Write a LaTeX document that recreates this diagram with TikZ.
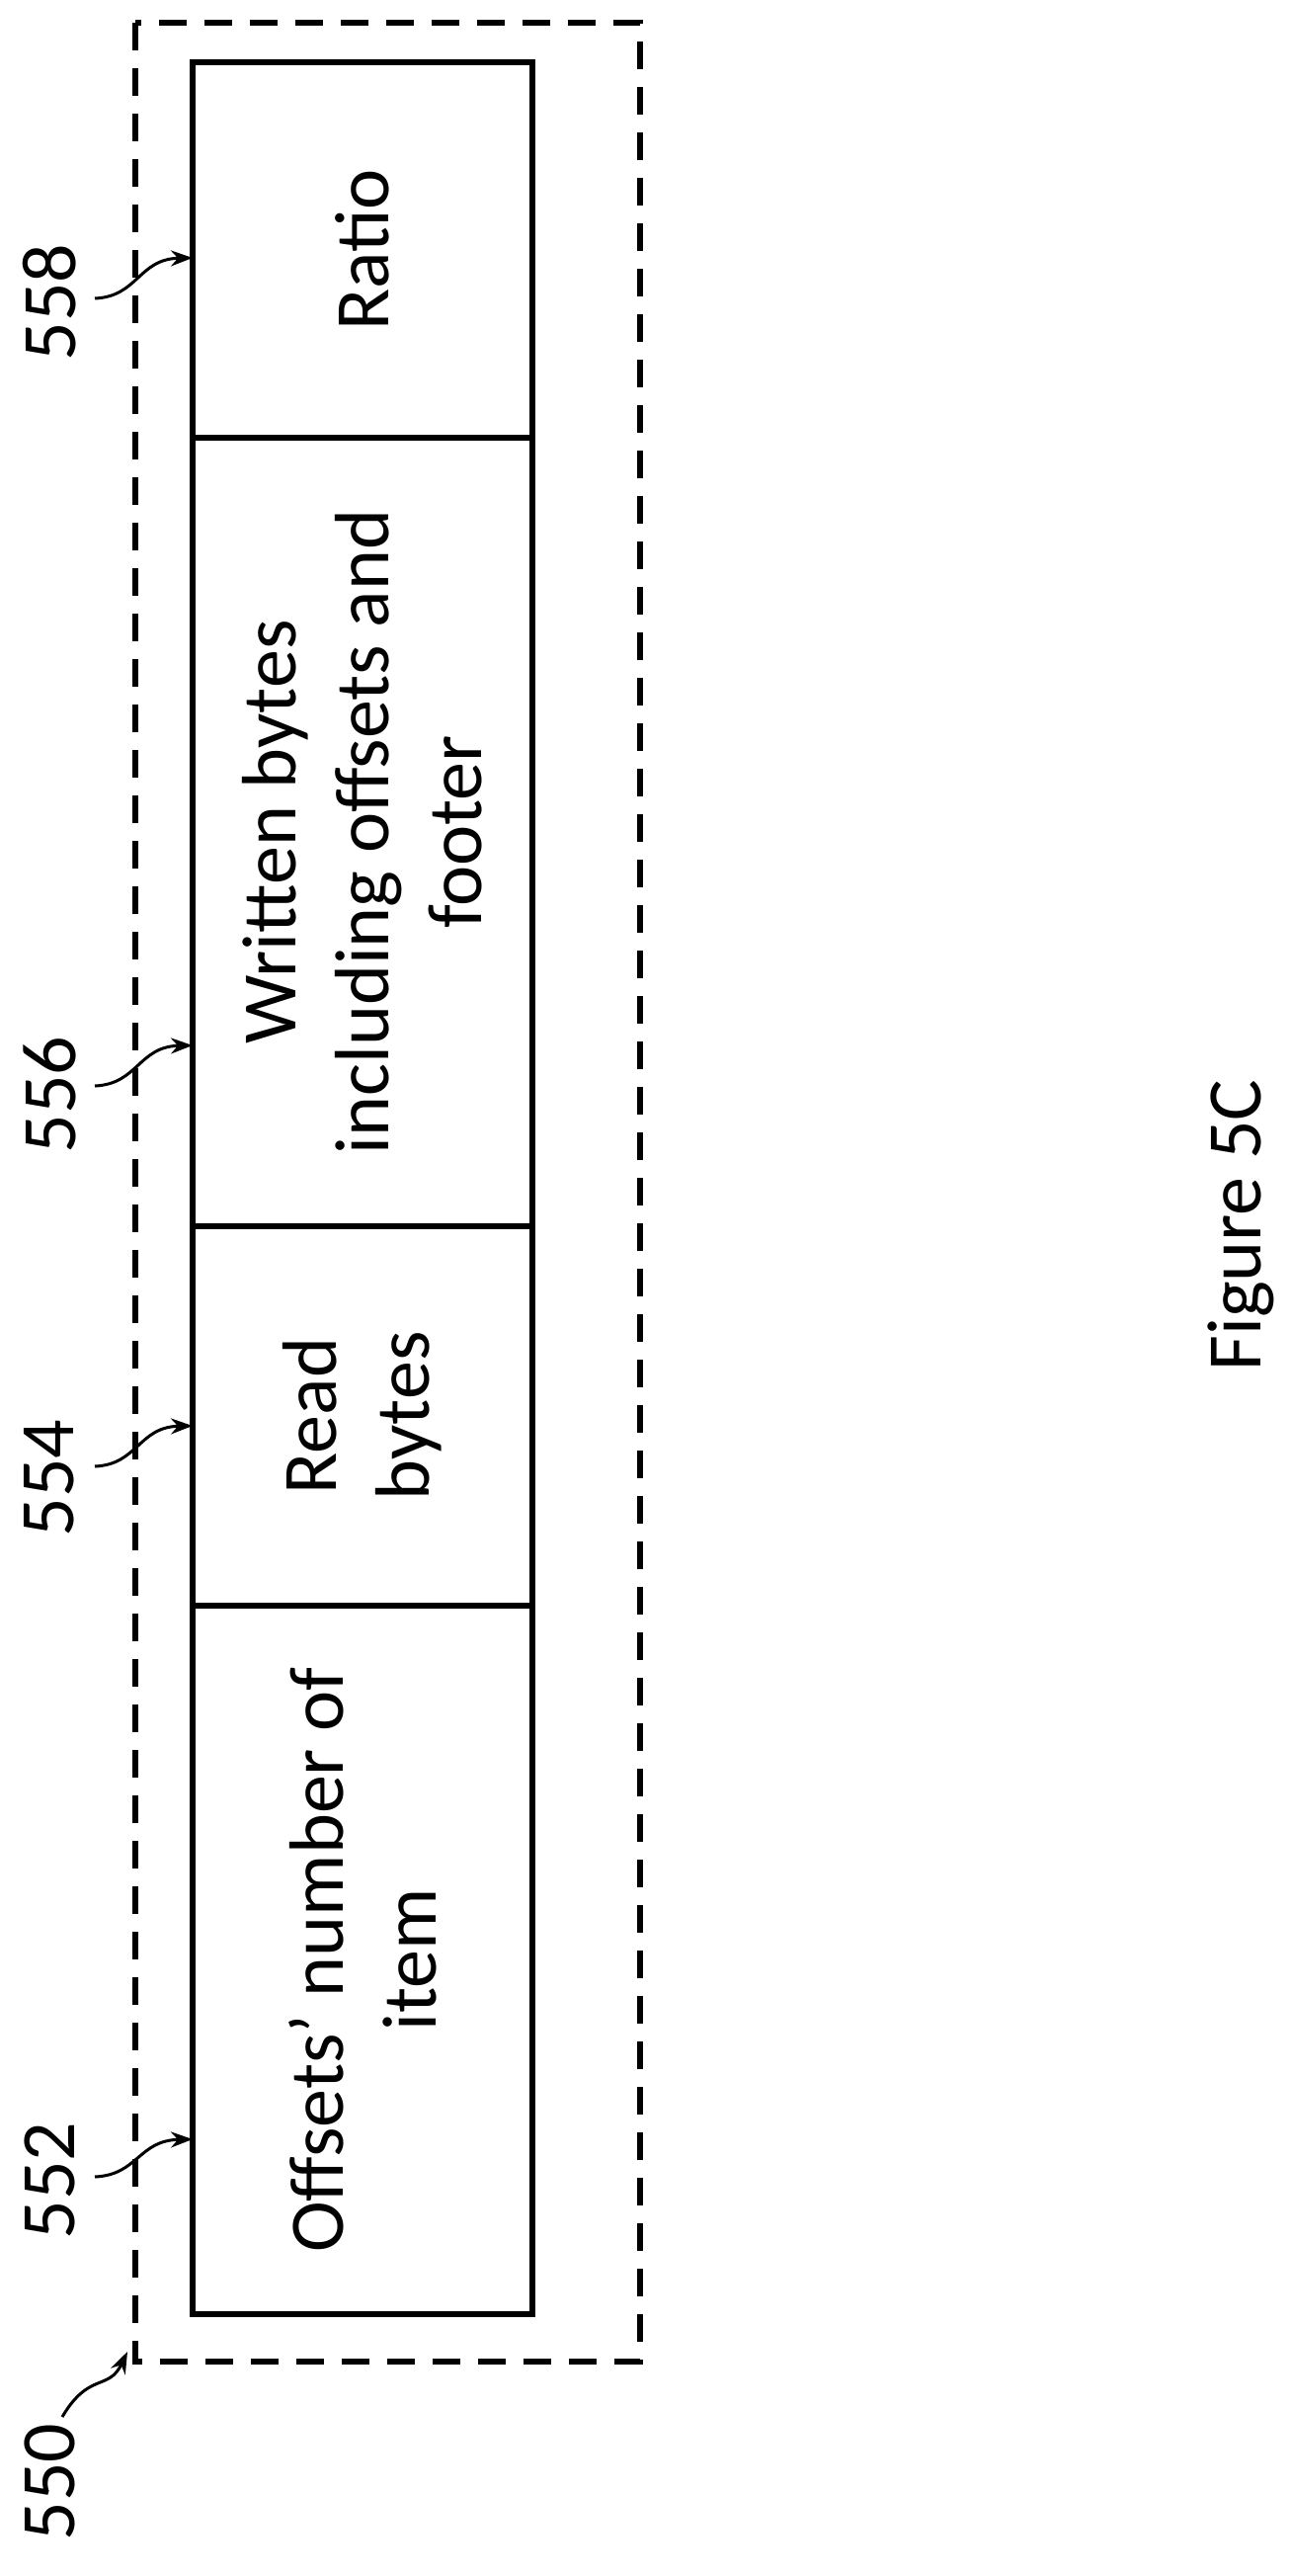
\documentclass[tikz,border=0pt]{standalone}
\usepackage{fontspec}
\setmainfont{Carlito}
\usetikzlibrary{arrows.meta}
\begin{document}
\begin{tikzpicture}[x=1pt,y=-1pt,
  box/.style={draw,line width=6pt},
  lbl/.style={rotate=90,font=\fontsize{78}{94}\selectfont,align=center},
  ref/.style={line width=3pt,-{Stealth[length=22pt,width=16pt]}}]
\useasboundingbox (0,0) rectangle (1306,2607);
\draw[line width=6pt,dash pattern=on 28pt off 18pt] (137,23) rectangle (648,2390);
\node[box,minimum width=344pt,minimum height=380pt,inner sep=0] (r) at (367,253) {};
\node[box,minimum width=344pt,minimum height=798pt,inner sep=0] (w) at (367,842) {};
\node[box,minimum width=344pt,minimum height=384pt,inner sep=0] (rb) at (367,1433) {};
\node[box,minimum width=344pt,minimum height=717pt,inner sep=0] (o) at (367,1983.5) {};
\node[lbl] at (r) {Ratio};
\node[lbl] at (w) {Written bytes\\including offsets and\\footer};
\node[lbl] at (rb) {Read\\bytes};
\node[lbl] at (o) {Offsets’ number of\\item};
\node[lbl] (fig) at (1256,1240) {Figure 5C};
\node[lbl] (l558) at (50,306) {558};
\node[lbl] (l556) at (50,1108) {556};
\node[lbl] (l554) at (50,1496) {554};
\node[lbl] (l552) at (50,2207) {552};
\node[lbl] (l550) at (50,2512) {550};
\coordinate (a558) at (195,261);
\coordinate (a556) at (195,1058);
\coordinate (a554) at (195,1443);
\coordinate (a552) at (195,2165);
\coordinate (a550) at (129,2380);
\draw[ref] (96,302) .. controls (140,300) and (140,262) .. (a558);
\draw[ref] (96,1099) .. controls (140,1097) and (140,1059) .. (a556);
\draw[ref] (96,1484) .. controls (140,1482) and (140,1444) .. (a554);
\draw[ref] (96,2203) .. controls (140,2201) and (140,2166) .. (a552);
\draw[ref] (63,2446) .. controls (90,2400) and (110,2420) .. (a550);
\end{tikzpicture}
\end{document}
